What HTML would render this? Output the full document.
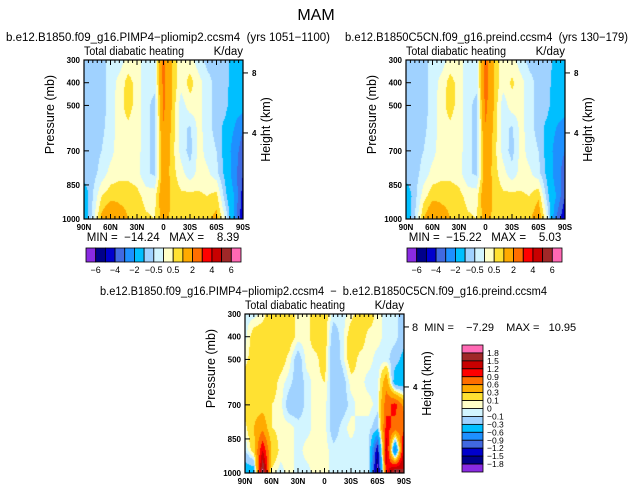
<!DOCTYPE html>
<html><head><meta charset="utf-8"><style>
body{margin:0;background:#fff;}
#wrap{position:relative;width:631px;height:493px;overflow:hidden;font-family:"Liberation Sans",sans-serif;}
canvas{position:absolute;}
svg{position:absolute;left:0;top:0;}
svg text{white-space:pre;}
</style></head><body>
<div id="wrap">
<canvas id="c1" style="left:84px;top:60px" width="159" height="159"></canvas>
<canvas id="c2" style="left:406px;top:60px" width="159" height="159"></canvas>
<canvas id="c3" style="left:245px;top:314px" width="159" height="159"></canvas>
<svg id="s" width="631" height="493"></svg>
</div>
<script>
// ---- data ----
const lats = [90,80,70,60,50,40,30,20,10,0,-10,-20,-30,-40,-50,-60,-70,-80,-90];
const levels = [300,400,500,600,700,800,900,1000];
const pliomip = [
[-.7,-.7,-.7,-.3,-.3,.2,.2,-.3,-.3,2.3,0.9,.2,.2,-.3,-.7,-.7,-.7,-1.5,-1.5],
[-.7,-.7,-.7,-.3,.2,.7,.3,-.3,-.3,2.3,0.9,.2,.7,.2,-.3,-.7,-.7,-1.5,-1.5],
[-.7,-.7,-.7,-.3,.3,.7,.3,-.3,-.7,2.2,0.9,-.3,.3,.2,-.3,-.7,-.8,-1.5,-1.5],
[-.7,-.7,-.6,-.3,.3,.4,.2,-.3,-.7,1.9,.8,-.3,-.6,.2,-.3,-.7,-1.2,-2,-3],
[-.7,-.7,-.5,-.2,.3,.3,.2,-.3,-.7,1.7,.7,-.2,-.7,.2,-.2,-.5,-1.3,-2.5,-3.5],
[-.7,-.7,-.3,.2,.3,.3,.2,-.4,-.6,1.6,.7,.2,-.3,.2,.1,-.3,-1.2,-2.5,-4],
[-1.5,-.5,.5,.8,.9,.9,.7,.3,.3,1.7,.8,.6,.7,.6,.5,.7,-.8,-2,-4.5],
[-1.5,-.3,1.2,1.8,1.2,1,.9,.6,.5,1.3,.8,.8,.9,.8,.9,1.2,0,-2,-5]];
const preind = [
[-.7,-.7,-.7,-.3,-.3,.2,.2,-.3,-.3,2.4,0.9,.2,.2,-.3,-.7,-.7,-.7,-1.2,-1.5],
[-.7,-.7,-.7,-.3,.2,.7,.3,-.3,-.3,2.4,0.9,.2,.6,.2,-.3,-.7,-.7,-1.5,-1.5],
[-.7,-.7,-.7,-.3,.3,.7,.3,-.3,-.7,2.3,0.9,-.3,.3,.2,-.3,-.7,-.8,-1.5,-1.5],
[-.7,-.7,-.6,-.3,.3,.4,.2,-.3,-.7,1.9,.8,-.3,-.6,.2,-.3,-.7,-1.2,-2,-2.5],
[-.7,-.7,-.5,-.2,.3,.3,.2,-.3,-.7,1.7,.7,-.2,-.7,.2,-.2,-.5,-1.3,-2.5,-3],
[-.7,-.7,-.3,.2,.3,.3,.2,-.4,-.6,1.6,.7,.2,-.3,.2,.1,-.3,-1.2,-2.5,-3.5],
[-1.5,-.7,.3,.8,.9,.9,.7,.3,.3,1.7,.8,.6,.7,.6,.5,.9,-.8,-2,-4],
[-1.5,-.5,1,1.8,1.2,1,.9,.6,.5,1.3,.8,.8,.9,.8,.9,1.5,0,-3,-5]];
const diff = [
[-.05,-.05,.05,.2,.2,.2,.05,.05,.2,.2,-.05,-.05,.05,.2,.2,.05,-.05,-.05,-.2],
[-.05,.2,.2,.2,.2,.2,.05,.05,.2,.2,-.2,-.05,.2,.2,.05,.05,-.05,-.05,-.2],
[.05,.2,.2,.2,.2,.05,-.2,.05,.05,.2,-.3,-.05,.2,.05,.05,-.05,-.05,-.2,-.4],
[.2,.2,.2,.2,.05,-.05,-.2,-.05,.05,.1,-.2,-.2,.05,.05,-.05,-.05,.5,-.5,-.5],
[.2,.2,.2,.1,.05,-.2,-.2,-.05,.05,.05,-.2,-.2,-.05,.05,.05,-.05,.8,1,.5],
[.05,.3,.5,.1,.05,.05,-.05,-.05,.05,.05,-.2,-.05,.05,-.05,-.05,-.2,1,.8,.8],
[-.1,.2,1.2,.3,.05,.05,-.05,.05,.05,.05,-.05,-.05,-.05,-.05,-.05,-1.5,1.5,-1,1.5],
[-.5,-.5,2,.05,-.05,.05,-.05,-.05,.05,.05,-.05,-.05,-.05,-.05,-.05,-2,1,2,1.5]];
const colors = ["#8a2be2","#00008b","#0000cd","#4169e1","#1e90ff","#00bfff","#a0d2ff","#d2f5ff","#ffffc8","#ffe132","#ffaa00","#ff6e00","#ff0000","#c80000","#a02828","#ff69b4"];
const bounds1 = [-6,-5,-4,-3,-2,-1,-0.5,0,0.5,1,2,3,4,5,6];
const bounds2 = [-1.8,-1.5,-1.2,-0.9,-0.6,-0.3,-0.1,0,0.1,0.3,0.6,0.9,1.2,1.5,1.8];
const cbLabels1 = ["−6","−4","−2","−0.5","0.5","2","4","6"];
const cbLabels2 = ["1.8","1.5","1.2","0.9","0.6","0.3","0.1","0","−0.1","−0.3","−0.6","−0.9","−1.2","−1.5","−1.8"];
const xTicks = [90,60,30,0,-30,-60,-90];
const xTickLabels = ["90N","60N","30N","0","30S","60S","90S"];
const pTicks = [300,400,500,700,850,1000];
const hTicks = [8,4];

// ---- scales ----
const W=159,H=159;
const xScale = lat => (90-lat)/180*W;
const yScale = p => (p-300)/700*H;
const hToP = h => 1081*Math.exp(-h/7.22);

function colorFor(v,b){let i=0;while(i<b.length&&v>=b[i])i++;return colors[i];}
function sample(grid,lat,p){
  let fx=(90-lat)/10, fy=(p-300)/100;
  let i=Math.min(Math.floor(fx),lats.length-2), j=Math.min(Math.floor(fy),levels.length-2);
  let tx=fx-i, ty=fy-j;
  return grid[j][i]*(1-tx)*(1-ty)+grid[j][i+1]*tx*(1-ty)+grid[j+1][i]*(1-tx)*ty+grid[j+1][i+1]*tx*ty;
}
function drawField(id,grid,b){
  const ctx=document.getElementById(id).getContext('2d');
  for(let y=0;y<H;y++)for(let x=0;x<W;x++){
    const lat=90-(x+0.5)/W*180, p=300+(y+0.5)/H*700;
    ctx.fillStyle=colorFor(sample(grid,lat,p),b);ctx.fillRect(x,y,1,1);
  }
}
drawField('c1',pliomip,bounds1);
drawField('c2',preind,bounds1);
drawField('c3',diff,bounds2);

const svg=document.getElementById('s');const NS="http://www.w3.org/2000/svg";
function el(tag,attrs,txt){const e=document.createElementNS(NS,tag);for(const k in attrs)e.setAttribute(k,attrs[k]);if(txt!==undefined)e.textContent=txt;svg.appendChild(e);return e;}
function text(x,y,s,size,anchor,name,extra){const t=el('text',Object.assign({x:x,y:y,'font-size':size,'text-anchor':anchor||'start',fill:'#000','font-family':'Liberation Sans, sans-serif'},extra||{}),s);

return t;}
const fit = len => ({textLength:len,lengthAdjust:'spacingAndGlyphs'});

text(316,20,"MAM",16,'middle','figure-title');
function panel(x0,y0,title,tx,tlen,minmax){
  if(title)text(tx,41,title,11.5,'start','panel-title',fit(tlen));
  text(x0,y0-5,"Total diabatic heating",11.5,'start','variable-label',fit(100));
  text(x0+W,y0-5,"K/day",11.5,'end','units-label');
  const r=el('rect',{x:x0,y:y0,width:W,height:H,fill:'none',stroke:'#000','stroke-width':1.2});
  
  
  for(let lat=90;lat>=-90;lat-=5){const x=x0+xScale(lat);const L=lat%30===0?5:3;
    el('line',{x1:x,x2:x,y1:y0,y2:y0+L,stroke:'#000','stroke-width':1});
    el('line',{x1:x,x2:x,y1:y0+H,y2:y0+H-L,stroke:'#000','stroke-width':1});}
  xTicks.forEach((lat,i)=>{text(x0+xScale(lat),y0+H+11,xTickLabels[i],8,'middle','x-tick-label',{'font-weight':'bold'});});
  pTicks.forEach(p=>{const y=y0+yScale(p);el('line',{x1:x0,x2:x0+5,y1:y,y2:y,stroke:'#000'});
    text(x0-4,y+3,String(p),8,'end','y-tick-label',{'font-weight':'bold'});});
  hTicks.forEach(h=>{const y=y0+yScale(hToP(h));el('line',{x1:x0+W,x2:x0+W+5,y1:y,y2:y,stroke:'#000'});
    if(!(minmax&&h===8))text(x0+W+9,y+3,String(h),8,'start','height-tick-label',{'font-weight':'bold'});});
  text(x0-30,y0+H/2-25,"Pressure (mb)",12.5,'middle','y-axis-title',{transform:`rotate(-90 ${x0-30} ${y0+H/2-25})`});
  text(x0+W+27,y0+H/2-10,"Height (km)",12.5,'middle','height-axis-title',{transform:`rotate(-90 ${x0+W+27} ${y0+H/2-10})`});
}
panel(84,60,"b.e12.B1850.f09_g16.PIMP4−pliomip2.ccsm4  (yrs 1051−1100)",6,324);
panel(406,60,"b.e12.B1850C5CN.f09_g16.preind.ccsm4  (yrs 130−179)",345,283);
panel(245,314,"",0,0,true);
text(100,295,"b.e12.B1850.f09_g16.PIMP4−pliomip2.ccsm4  −  b.e12.B1850C5CN.f09_g16.preind.ccsm4",11.5,'start','diff-title',fit(447));
text(163,241,"MIN =  −14.24   MAX =    8.39",11.5,'middle','min-max-left');
text(485,241,"MIN =  −15.22   MAX =    5.03",11.5,'middle','min-max-right');
text(412,331,"8  MIN =    −7.29    MAX =   10.95",11,'start','min-max-diff');

function hbar(x0,y0,w,h,name){const bw=w/colors.length;
  colors.forEach((c,i)=>{const r=el('rect',{x:x0+i*bw,y:y0,width:bw,height:h,fill:c,stroke:'#000','stroke-width':0.8});
    
    });
  cbLabels1.forEach((s,i)=>{text(x0+(1+2*i)*bw,y0+h+11,s,9,'middle','colorbar-label');});}
hbar(86,248,155,14,'colorbar-left');
hbar(407,248,155,14,'colorbar-right');
(function(){const x0=462,y0=345,w=21,h=127,bh=h/colors.length;
  colors.slice().reverse().forEach((c,i)=>{const r=el('rect',{x:x0,y:y0+i*bh,width:w,height:bh,fill:c,stroke:'#000','stroke-width':0.8});
    
    });
  cbLabels2.forEach((s,i)=>{text(x0+w+4,y0+(i+1)*bh+3,s,8.5,'start','colorbar-diff-label');});})();
</script>
</body></html>
